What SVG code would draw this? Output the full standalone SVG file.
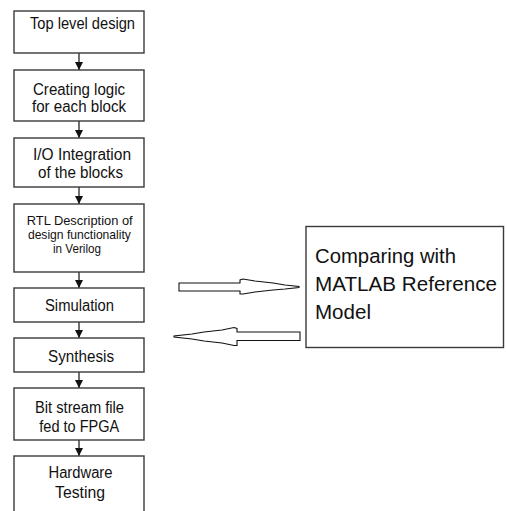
<svg xmlns="http://www.w3.org/2000/svg" width="507" height="511" viewBox="0 0 507 511">
<defs>
<style>
.box{fill:#fff;stroke:#3a3a3a;stroke-width:1.4}
.t{font-family:"Liberation Sans",Arial,sans-serif;font-size:16px;fill:#111;text-anchor:middle}
.s{font-size:13.5px}
.big{font-family:"Liberation Sans",Arial,sans-serif;font-size:20.5px;fill:#111}
.conn{stroke:#111;stroke-width:1.2;fill:none}
.blk{fill:#fff;stroke:#111;stroke-width:1.1;stroke-linejoin:miter}
</style>
<marker id="ah" viewBox="0 0 10 10" refX="10" refY="5" markerWidth="8" markerHeight="8" markerUnits="userSpaceOnUse" orient="auto">
<path d="M0,0 L10,5 L0,10 Z" fill="#111"/>
</marker>
</defs>
<rect width="507" height="511" fill="#fff"/>
<g id="connectors">
<line class="conn" x1="79" y1="53" x2="79" y2="70" marker-end="url(#ah)"/>
<line class="conn" x1="79" y1="121" x2="79" y2="138" marker-end="url(#ah)"/>
<line class="conn" x1="79" y1="187" x2="79" y2="204" marker-end="url(#ah)"/>
<line class="conn" x1="79" y1="272" x2="79" y2="288" marker-end="url(#ah)"/>
<line class="conn" x1="79" y1="322" x2="79" y2="338" marker-end="url(#ah)"/>
<line class="conn" x1="79" y1="372" x2="79" y2="388" marker-end="url(#ah)"/>
<line class="conn" x1="79" y1="440" x2="79" y2="456" marker-end="url(#ah)"/>
<path id="to-matlab" class="blk" d="M179,283 L240,283 L240,280 L243,279 L255,281 L273,283 L285,285 L299,286.5 L299,287.5 L285,289 L273,290 L255,292 L243,294 L240,294 L240,291 L179,291 Z"/>
<path id="from-matlab" class="blk" d="M300,332 L237,332 L237,328.5 L234,327.5 L222,330 L204,332 L192,334 L174,336 L174,337 L192,339 L204,341 L222,343 L234,345.5 L237,345.5 L237,340.5 L300,340.5 Z"/>
</g>
<g id="n1"><rect class="box" x="14" y="11" width="130" height="42"/><text class="t" x="82.5" y="29" textLength="105" lengthAdjust="spacingAndGlyphs">Top level design</text></g>
<g id="n2"><rect class="box" x="14" y="70" width="130" height="51"/><text class="t" x="79" y="94.5" textLength="92" lengthAdjust="spacingAndGlyphs">Creating logic</text><text class="t" x="79" y="111.5" textLength="94" lengthAdjust="spacingAndGlyphs">for each block</text></g>
<g id="n3"><rect class="box" x="14" y="138" width="130" height="49"/><text class="t" x="82" y="160" textLength="98" lengthAdjust="spacingAndGlyphs">I/O Integration</text><text class="t" x="80.5" y="178" textLength="85" lengthAdjust="spacingAndGlyphs">of the blocks</text></g>
<g id="n4"><rect class="box" x="14" y="204" width="130" height="68"/><text class="t s" x="79.7" y="225" textLength="106" lengthAdjust="spacingAndGlyphs">RTL Description of</text><text class="t s" x="79.4" y="238.5" textLength="103" lengthAdjust="spacingAndGlyphs">design functionality</text><text class="t s" x="77" y="252.5" textLength="48" lengthAdjust="spacingAndGlyphs">in Verilog</text></g>
<g id="n5"><rect class="box" x="14" y="288" width="130" height="34"/><text class="t" x="79.5" y="310.5" textLength="69" lengthAdjust="spacingAndGlyphs">Simulation</text></g>
<g id="n6"><rect class="box" x="14" y="338" width="130" height="34"/><text class="t" x="81" y="361.5" textLength="66" lengthAdjust="spacingAndGlyphs">Synthesis</text></g>
<g id="n7"><rect class="box" x="14" y="388" width="130" height="52"/><text class="t" x="79.5" y="413" textLength="89" lengthAdjust="spacingAndGlyphs">Bit stream  file</text><text class="t" x="79.3" y="432" textLength="80" lengthAdjust="spacingAndGlyphs">fed to FPGA</text></g>
<g id="n8"><rect class="box" x="14" y="456" width="130" height="60"/><text class="t" x="80.5" y="478" textLength="64" lengthAdjust="spacingAndGlyphs">Hardware</text><text class="t" x="80" y="498" textLength="50" lengthAdjust="spacingAndGlyphs">Testing</text></g>
<g id="matlab"><rect class="box" x="306" y="226.5" width="197.5" height="121"/><text class="big" x="315" y="263" textLength="141" lengthAdjust="spacingAndGlyphs">Comparing with</text><text class="big" x="315" y="291" textLength="182" lengthAdjust="spacingAndGlyphs">MATLAB Reference</text><text class="big" x="315" y="318.5" textLength="56" lengthAdjust="spacingAndGlyphs">Model</text></g>
</svg>
